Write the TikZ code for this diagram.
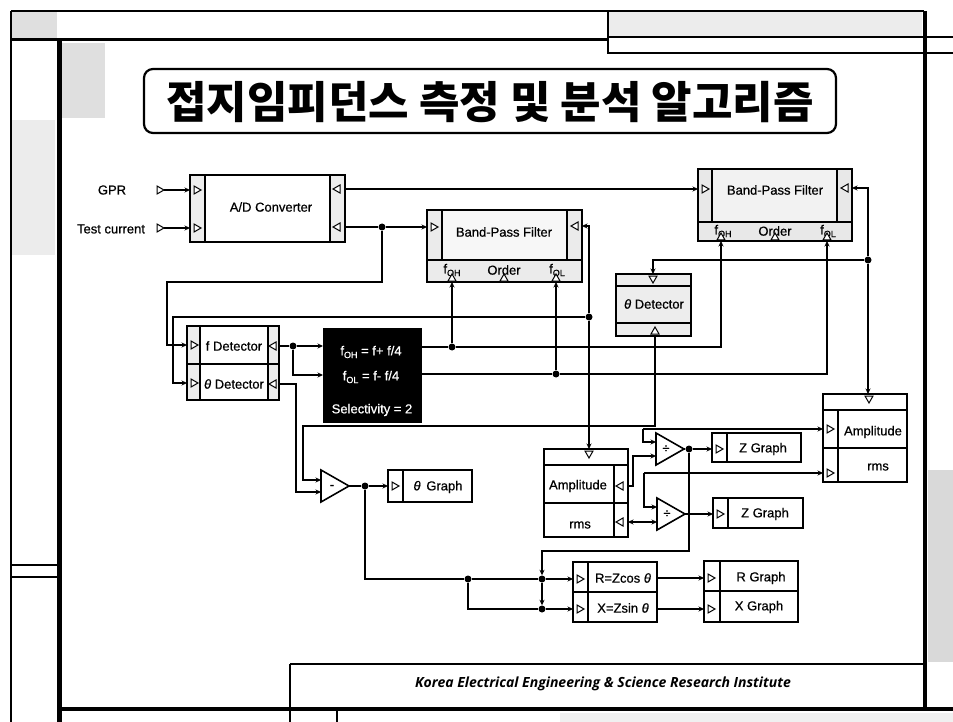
\documentclass[tikz,border=0pt]{standalone}
\usepackage{fontspec}
\setmainfont{Liberation Sans}
\newfontfamily\lbf{Liberation Sans}[FakeBold=0.6]
\newfontfamily\krfont{Noto Sans CJK KR}
\newfontfamily\footfont{Open Sans}
\usetikzlibrary{arrows.meta}
\newcommand\sub[1]{\raisebox{-0.4ex}{\fontsize{9}{9}\selectfont #1}}
\begin{document}
\begin{tikzpicture}[x=1pt,y=-1pt,
  wire/.style={line width=1.3pt},
  ar/.style={wire,-{Stealth[length=5.5pt,width=5pt]}},
  bar/.style={wire,{Stealth[length=5.5pt,width=5pt]}-{Stealth[length=5.5pt,width=5pt]}},
  bx/.style={draw,line width=1.6pt},
  jd/.style={circle,fill=black,inner sep=0pt,minimum size=7pt},
  lb/.style={inner sep=0pt,font=\lbf\fontsize{13}{15}\selectfont},
  frm/.style={line width=1.2pt},
  pR/.pic={\draw[line width=1pt,fill=white] (-3,-4) -- (4,0) -- (-3,4) -- cycle;},
  pL/.pic={\draw[line width=1pt,fill=white] (3,-4) -- (-4,0) -- (3,4) -- cycle;},
  pD/.pic={\draw[line width=1pt,fill=white] (-4,-3) -- (0,4) -- (4,-3) -- cycle;},
  pU/.pic={\draw[line width=1pt,fill=white] (-4,3) -- (0,-4) -- (4,3) -- cycle;}
]
\useasboundingbox (0,0) rectangle (953,722);
\fill[white] (0,0) rectangle (953,722);

% ---------- frame ----------
\fill[gray!25] (11,11) rectangle (57,39);
\fill[gray!15] (11,120) rectangle (55,255);
\fill[gray!25] (62,43) rectangle (105,118);
\fill[gray!15] (608,11) rectangle (922,36);
\fill[gray!30] (928,470) rectangle (953,662);
\fill[gray!12] (560,713) rectangle (953,722);
\draw[frm] (11,11) -- (11,722);
\draw[frm] (11,11) -- (924,11);
\draw[line width=3pt] (11,40) -- (608,40);
\draw[frm] (608,37) -- (953,37);
\draw[frm] (608,11) -- (608,53) -- (953,53);
\draw[line width=3.5pt] (925,11) -- (925,709);
\draw[line width=5pt] (59,40) -- (59,722);
\draw[line width=4pt] (57,709) -- (953,709);
\draw[frm] (11,565) -- (57,565) (11,577) -- (57,577);
\draw[line width=1.5pt] (290,664) -- (925,664);
\draw[frm] (290,664) -- (290,722);
\draw[frm] (337,711) -- (337,722);
\node[inner sep=0pt] (foot) at (603,684) {\footfont\bfseries\itshape\fontsize{14}{16}\selectfont Korea Electrical Engineering \& Science Research Institute};

% ---------- title ----------
\node[draw,line width=2.2pt,rounded corners=9pt,minimum width=692pt,minimum height=64pt,inner sep=0pt] (titlebox) at (490,101) {};
\node[inner sep=0pt] (title) at (490,102) {\krfont\bfseries\fontsize{44}{46}\selectfont 접지임피던스 측정 및 분석 알고리즘};

% ---------- inputs ----------
\node[lb] (gpr) at (112,190) {GPR};
\node[lb] (tc) at (111,229) {Test current};
\pic at (160,190) {pR};
\pic at (160,228) {pR};
\coordinate (gpr-o) at (164,190);
\coordinate (tc-o) at (164,228);

% ---------- A/D converter ----------
\fill[white] (190,175) rectangle (345,242);
\fill[gray!14] (190,175) rectangle (205,242) (330,175) rectangle (345,242);
\draw[bx] (190,175) rectangle (345,242) (205,175) -- (205,242) (330,175) -- (330,242);
\node[lb] (adl) at (271,207) {A/D Converter};
\coordinate (ad-i1) at (190,190);
\coordinate (ad-i2) at (190,228);
\coordinate (ad-o1) at (345,189);
\coordinate (ad-o2) at (345,227);
\pic at (197,190) {pR};
\pic at (197,228) {pR};
\pic at (337,189) {pL};
\pic at (337,227) {pL};

% ---------- band-pass filter (middle) ----------
\fill[gray!6] (427,210) rectangle (582,282);
\fill[gray!16] (427,210) rectangle (442,260) (567,210) rectangle (582,260) (427,260) rectangle (582,282);
\draw[bx] (427,210) rectangle (582,282) (442,210) -- (442,260) (567,210) -- (567,260) (427,260) -- (582,260);
\node[lb] (bpf1) at (504,232) {Band-Pass Filter};
\node[lb] (bpf1h) at (452,270) {f\sub{OH}};
\node[lb] (bpf1r) at (504,270) {Order};
\node[lb] (bpf1l) at (557,270) {f\sub{OL}};
\coordinate (bpf1-i) at (427,227);
\coordinate (bpf1-o) at (582,226);
\coordinate (bpf1-fh) at (452,282);
\coordinate (bpf1-fl) at (556,282);
\pic at (434,227) {pR};
\pic at (575,226) {pL};
\pic at (452,278) {pU};
\pic at (504,278) {pU};
\pic at (556,278) {pU};

% ---------- band-pass filter (right) ----------
\fill[gray!10] (698,169) rectangle (852,241);
\fill[gray!18] (698,169) rectangle (712,222) (837,169) rectangle (852,222) (698,222) rectangle (852,241);
\draw[bx] (698,169) rectangle (852,241) (712,169) -- (712,222) (837,169) -- (837,222) (698,222) -- (852,222);
\node[lb] (bpf2) at (775,190) {Band-Pass Filter};
\node[lb] (bpf2h) at (723,231) {f\sub{OH}};
\node[lb] (bpf2r) at (775,231) {Order};
\node[lb] (bpf2l) at (828,231) {f\sub{OL}};
\coordinate (bpf2-i) at (698,189);
\coordinate (bpf2-o) at (852,188);
\coordinate (bpf2-fh) at (721,241);
\coordinate (bpf2-fl) at (827,241);
\pic at (705,189) {pR};
\pic at (845,188) {pL};
\pic at (721,237) {pU};
\pic at (775,237) {pU};
\pic at (827,237) {pU};

% ---------- theta detector (upper) ----------
\fill[gray!14] (616,274) rectangle (691,336);
\draw[bx] (616,274) rectangle (691,336) (616,286) -- (691,286) (616,323) -- (691,323);
\node[lb] (tdu) at (654,304) {\textit{θ} Detector};
\coordinate (tdu-t) at (653,274);
\coordinate (tdu-b) at (655,336);
\pic at (653,279) {pD};
\pic at (655,331) {pU};

% ---------- f / theta detector (left) ----------
\fill[white] (187,326) rectangle (279,400);
\fill[gray!14] (187,326) rectangle (200,400) (268,326) rectangle (279,400);
\draw[bx] (187,326) rectangle (279,400) (200,326) -- (200,400) (268,326) -- (268,400) (187,364) -- (279,364);
\node[lb] (fdl) at (234,346) {f Detector};
\node[lb] (tdl) at (234,384) {\textit{θ} Detector};
\coordinate (fd-i) at (187,345);
\coordinate (td-i) at (187,383);
\coordinate (fd-o) at (279,346);
\coordinate (td-o) at (279,384);
\pic at (194,345) {pR};
\pic at (194,383) {pR};
\pic at (273,346) {pL};
\pic at (273,384) {pL};

% ---------- cut-off box ----------
\fill[black] (323,328) rectangle (422,423);
\node[lb,text=white] (bb1) at (371,352) {f\sub{OH} = f+ f/4};
\node[lb,text=white] (bb2) at (371,377) {f\sub{OL} = f- f/4};
\node[lb,text=white] (bb3) at (372,410) {Selectivity = 2};
\coordinate (bb-i1) at (323,346);
\coordinate (bb-i2) at (323,375);
\coordinate (bb-o1) at (422,347);
\coordinate (bb-o2) at (422,374);

% ---------- subtractor and theta graph ----------
\draw[bx,fill=white] (321,470) -- (349,486) -- (321,502) -- cycle;
\node[lb] (subl) at (332,487) {-};
\coordinate (sub-i1) at (321,480);
\coordinate (sub-i2) at (321,492);
\coordinate (sub-o) at (349,486);
\draw[bx,fill=white] (388,470) rectangle (472,502) (403,470) -- (403,502);
\node[lb] (tg) at (438,487) {\textit{θ}\, Graph};
\coordinate (tg-i) at (388,486);
\pic at (395,486) {pR};

% ---------- amplitude / rms (middle) ----------
\draw[bx,fill=white] (544,449) rectangle (628,537) (544,465) -- (628,465) (544,503) -- (628,503) (614,465) -- (614,537);
\node[lb] (amp1) at (578,486) {Amplitude};
\node[lb] (rms1) at (580,525) {rms};
\coordinate (amp1-t) at (589,449);
\coordinate (amp1-o1) at (628,486);
\coordinate (amp1-o2) at (628,522);
\pic at (589,454) {pD};
\pic at (620,486) {pL};
\pic at (620,522) {pL};

% ---------- dividers ----------
\draw[bx,fill=white] (656,433) -- (684,449) -- (656,465) -- cycle;
\node[lb] (d1l) at (666,449) {÷};
\draw[bx,fill=white] (657,498) -- (685,514) -- (657,530) -- cycle;
\node[lb] (d2l) at (667,514) {÷};
\coordinate (d1-i1) at (656,442);
\coordinate (d1-i2) at (656,456);
\coordinate (d1-o) at (684,449);
\coordinate (d2-i1) at (657,507);
\coordinate (d2-i2) at (657,522);
\coordinate (d2-o) at (685,514);

% ---------- Z graphs ----------
\draw[bx,fill=white] (712,433) rectangle (801,462) (727,433) -- (727,462);
\node[lb] (z1) at (763,449) {Z Graph};
\draw[bx,fill=white] (713,498) rectangle (803,528) (728,498) -- (728,528);
\node[lb] (z2) at (765,514) {Z Graph};
\coordinate (z1-i) at (712,449);
\coordinate (z2-i) at (713,514);
\pic at (719,449) {pR};
\pic at (720,514) {pR};

% ---------- amplitude / rms (right) ----------
\draw[bx,fill=white] (823,394) rectangle (907,482) (823,410) -- (907,410) (838,410) -- (838,482) (823,448) -- (907,448);
\node[lb] (amp2) at (873,432) {Amplitude};
\node[lb] (rms2) at (878,467) {rms};
\coordinate (amp2-t) at (868,394);
\coordinate (amp2-i1) at (823,429);
\coordinate (amp2-i2) at (823,473);
\pic at (869,399) {pD};
\pic at (830,429) {pR};
\pic at (830,473) {pR};

% ---------- R / X ----------
\draw[bx,fill=white] (573,562) rectangle (657,622) (573,592) -- (657,592) (588,562) -- (588,622);
\node[lb] (rx1) at (623,578) {R=Zcos \textit{θ}};
\node[lb] (rx2) at (623,608) {X=Zsin \textit{θ}};
\coordinate (rx-i1) at (573,579);
\coordinate (rx-i2) at (573,609);
\coordinate (rx-o1) at (657,578);
\coordinate (rx-o2) at (657,609);
\pic at (580,579) {pR};
\pic at (580,609) {pR};
\draw[bx,fill=white] (704,561) rectangle (798,622) (704,591) -- (798,591) (720,561) -- (720,622);
\node[lb] (rg) at (761,578) {R Graph};
\node[lb] (xg) at (759,607) {X Graph};
\coordinate (rg-i) at (704,578);
\coordinate (xg-i) at (704,609);
\pic at (711,578) {pR};
\pic at (711,609) {pR};

% ---------- junctions ----------
\node[jd] (j1) at (382,227) {};
\node[jd] (j2) at (589,317) {};
\node[jd] (j3) at (293,346) {};
\node[jd] (j4) at (452,347) {};
\node[jd] (j5) at (556,374) {};
\node[jd] (j6) at (868,260) {};
\node[jd] (j7) at (365,486) {};
\node[jd] (j8) at (468,579) {};
\node[jd] (j9) at (542,579) {};
\node[jd] (j10) at (542,609) {};
\node[jd] (j11) at (689,449) {};
\coordinate (c1) at (643,429);
\coordinate (c2) at (644,473);

% ---------- connectors ----------
\draw[ar] (gpr-o) -- (ad-i1);
\draw[ar] (tc-o) -- (ad-i2);
\draw[ar] (ad-o1) -- (bpf2-i);
\draw[wire] (ad-o2) -- (j1);
\draw[ar] (j1) -- (bpf1-i);
\draw[ar] (j1) -- (382,282) -- (167,282) -- (167,345) -- (fd-i);
\draw[ar] (j2) -- (589,226) -- (bpf1-o);
\draw[ar] (j2) -- (amp1-t);
\draw[ar] (j2) -- (173,317) -- (173,383) -- (td-i);
\draw[wire] (fd-o) -- (j3);
\draw[ar] (j3) -- (bb-i1);
\draw[ar] (j3) -- (293,375) -- (bb-i2);
\draw[wire] (bb-o1) -- (j4);
\draw[ar] (j4) -- (bpf1-fh);
\draw[ar] (j4) -- (721,347) -- (bpf2-fh);
\draw[wire] (bb-o2) -- (j5);
\draw[ar] (j5) -- (bpf1-fl);
\draw[ar] (j5) -- (827,374) -- (bpf2-fl);
\draw[ar] (j6) -- (868,188) -- (bpf2-o);
\draw[ar] (j6) -- (amp2-t);
\draw[ar] (j6) -- (653,260) -- (tdu-t);
\draw[ar] (tdu-b) -- (655,426) -- (303,426) -- (303,480) -- (sub-i1);
\draw[ar] (td-o) -- (296,384) -- (296,492) -- (sub-i2);
\draw[wire] (sub-o) -- (j7);
\draw[ar] (j7) -- (tg-i);
\draw[wire] (j7) -- (365,579) -- (j8) -- (j9);
\draw[ar] (j9) -- (rx-i1);
\draw[wire] (j8) -- (468,609) -- (j10);
\draw[ar] (j10) -- (rx-i2);
\draw[ar] (j9) -- (j10);
\draw[wire] (d1-o) -- (j11);
\draw[ar] (j11) -- (z1-i);
\draw[ar] (j11) -- (689,551) -- (542,551) -- (j9);
\draw[ar] (amp1-o1) -- (633,486) -- (633,456) -- (d1-i2);
\draw[ar] (c1) -- (amp2-i1);
\draw[ar] (c1) -- (643,442) -- (d1-i1);
\draw[ar] (c2) -- (amp2-i2);
\draw[ar] (c2) -- (644,507) -- (d2-i1);
\draw[bar] (amp1-o2) -- (d2-i2);
\draw[ar] (d2-o) -- (z2-i);
\draw[ar] (rx-o1) -- (rg-i);
\draw[ar] (rx-o2) -- (xg-i);
\end{tikzpicture}
\end{document}
